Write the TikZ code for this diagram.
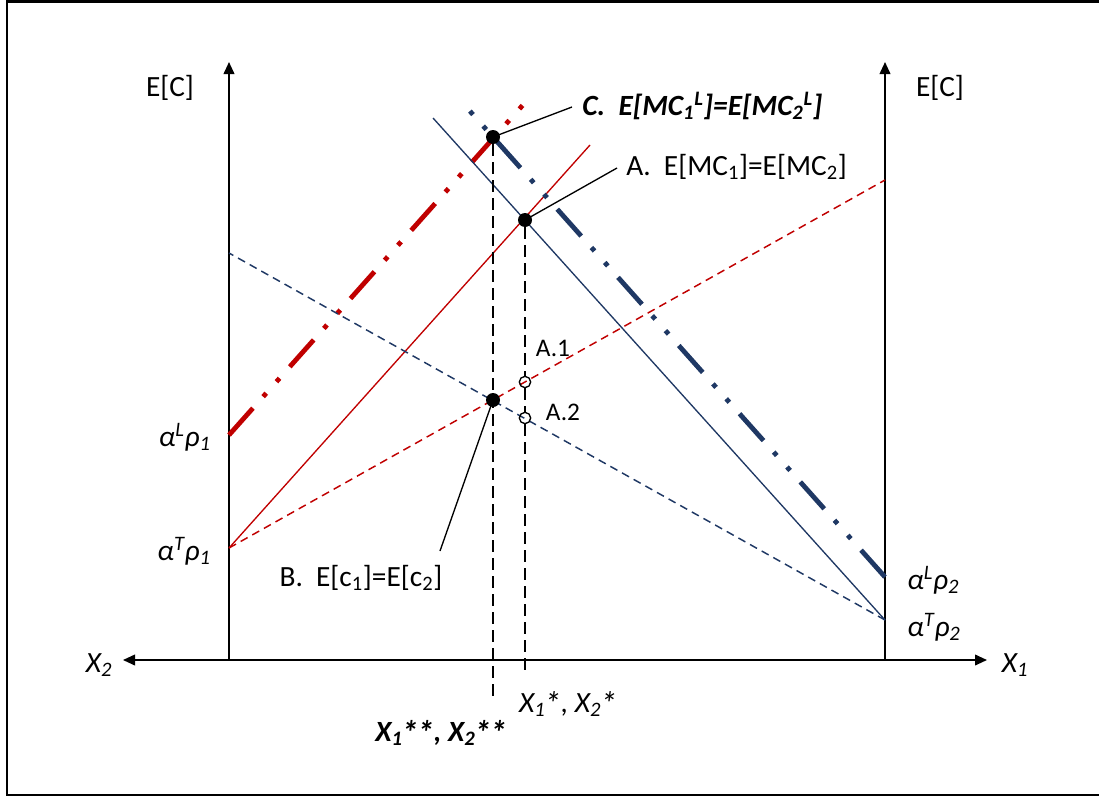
\documentclass[tikz,border=0pt]{standalone}
\usepackage{fontspec}
\setmainfont{Carlito}
\usetikzlibrary{arrows.meta}

\definecolor{darkred}{HTML}{C00000}
\definecolor{navy}{HTML}{1F3864}
\newcommand{\astr}{\kern-0.04em\raisebox{-0.1em}{\scalebox{1.15}{*}}}

\begin{document}
\begin{tikzpicture}[
  x=0.75pt, y=-0.75pt,
  font=\fontsize{22}{26}\selectfont,
  >={Triangle[length=9pt,width=8pt]},
  axis/.style={line width=1.3pt},
  thinln/.style={line width=1pt},
  dashln/.style={line width=1.1pt, dash pattern=on 6pt off 4pt},
  dashdotdot/.style={line width=3.6pt, dash pattern=on 27pt off 11.5pt on 3.5pt off 11.5pt on 3.5pt off 11.5pt},
  guide/.style={line width=1pt, dash pattern=on 9pt off 4.5pt},
  leader/.style={line width=1pt},
  dot/.style={circle, fill=black, inner sep=0pt, minimum size=10.5pt},
  ring/.style={circle, draw=black, line width=1pt, inner sep=0pt, minimum size=8.5pt},
  lbl/.style={inner sep=0pt},
  small/.style={inner sep=0pt, font=\fontsize{19}{22}\selectfont}
]
\useasboundingbox (0,0) rectangle (1099,796);
\draw[line width=1.5pt] (1099,1.5) -- (7,1.5) -- (7,794.5) -- (1099,794.5);

% axes
\coordinate (o1) at (229,660);
\coordinate (o2) at (885,660);
\coordinate (top1) at (229,62);
\coordinate (top2) at (885,62);
\coordinate (xl) at (123,660);
\coordinate (xr) at (987,660);
\draw[axis,->] (o1) -- (top1);
\draw[axis,->] (o2) -- (top2);
\draw[axis,<->] (xl) -- (xr);

\node[lbl] (ec1) at (170,88) {E[C]};
\node[lbl] (ec2) at (940,88) {E[C]};
\node[lbl] (x2) at (99,665) {\textit{X\textsubscript{2}}};
\node[lbl] (x1) at (1015,665) {\textit{X\textsubscript{1}}};

% intercepts
\coordinate (aL1) at (229,435);
\coordinate (aT1) at (229,548);
\coordinate (aL2) at (885,577);
\coordinate (aT2) at (885,620);
\coordinate (aN) at (229,253);
\coordinate (endRL) at (530,97);
\coordinate (endRT) at (590,145);
\coordinate (endRD) at (885,180);
\coordinate (endNT) at (433,118);
\coordinate (endNL) at (460,100);

\node[lbl, anchor=east] (lL1) at (211,437) {\textit{α\textsuperscript{L}ρ\textsubscript{1}}};
\node[lbl, anchor=east] (lT1) at (211,551) {\textit{α\textsuperscript{T}ρ\textsubscript{1}}};
\node[lbl, anchor=west] (lL2) at (907,580) {\textit{α\textsuperscript{L}ρ\textsubscript{2}}};
\node[lbl, anchor=west] (lT2) at (907,627) {\textit{α\textsuperscript{T}ρ\textsubscript{2}}};

% curves
\draw[darkred, dashdotdot] (aL1) -- (endRL);
\draw[darkred, thinln] (aT1) -- (endRT);
\draw[darkred, dashln] (aT1) -- (endRD);
\draw[navy, thinln] (aT2) -- (endNT);
\draw[navy, dashln] (aT2) -- (aN);
\draw[navy, dashdotdot] (aL2) -- (endNL);

% optima
\node[dot] (C) at (493,137) {};
\node[dot] (A) at (525,220) {};
\node[dot] (B) at (493,400) {};
\node[ring] (A1) at (525,382) {};
\node[ring] (A2) at (525,418) {};
\coordinate (gC) at (493,701);
\coordinate (gA) at (525,675);
\draw[guide] (C) -- (gC);
\draw[guide] (A) -- (A1) -- (A2) -- (gA);

\node[small] (lA1) at (553,348) {A.1};
\node[small] (lA2) at (563,412) {A.2};

\node[lbl, anchor=west] (lC) at (582,106) {\textbf{\textit{C.\hspace{0.45em}E[MC\textsubscript{1}\textsuperscript{L}]=E[MC\textsubscript{2}\textsuperscript{L}]}}};
\node[lbl, anchor=west] (lA) at (626,167) {A.\hspace{0.45em}E[MC\textsubscript{1}]=E[MC\textsubscript{2}]};
\node[lbl] (lB) at (361,578) {B.\hspace{0.45em}E[c\textsubscript{1}]=E[c\textsubscript{2}]};
\coordinate (eC) at (572,107);
\coordinate (eA) at (617,168);
\coordinate (eB) at (440,551);
\draw[leader] (C.center) -- (eC);
\draw[leader] (A.center) -- (eA);
\draw[leader] (B.center) -- (eB);

\node[lbl] (xs) at (568,704) {\textit{X\textsubscript{1}\astr, X\textsubscript{2}\astr}};
\node[lbl] (xss) at (441,733) {\textbf{\textit{X\textsubscript{1}\astr\astr, X\textsubscript{2}\astr\astr}}};
\end{tikzpicture}
\end{document}
